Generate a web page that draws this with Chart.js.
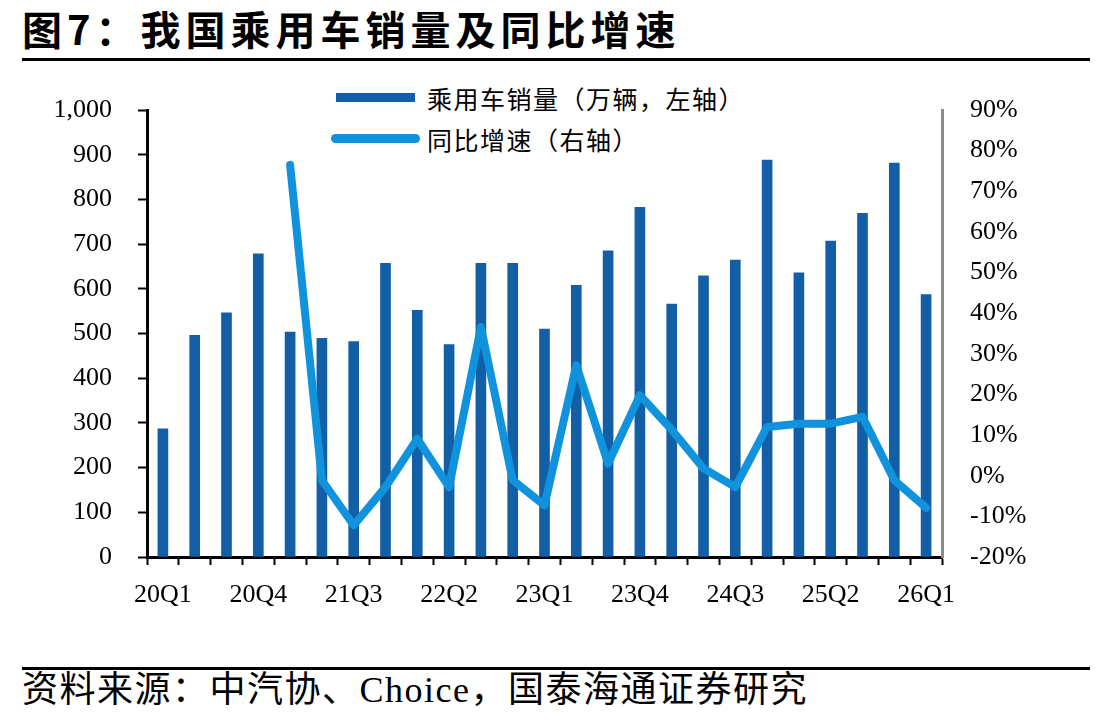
<!DOCTYPE html>
<html>
<head>
<meta charset="utf-8">
<script src="https://cdn.jsdelivr.net/npm/chart.js@4.4.1/dist/chart.umd.min.js"></script>
<style>
  html, body { margin:0; padding:0; background:#fff; }
  body { width:1106px; height:722px; position:relative; overflow:hidden; }
  #c { position:absolute; left:0; top:0; }
  .title { position:absolute; left:22px; top:4px; font-family:"Noto Sans CJK SC", sans-serif; font-weight:700; font-size:40px; letter-spacing:5px; color:#000; white-space:nowrap; line-height:48px; }
  .rule { position:absolute; left:22px; width:1068px; height:3px; background:#000; }
  .source { position:absolute; left:22px; top:668px; font-family:"Liberation Serif","Noto Sans CJK SC", serif; font-size:36px; color:#000; white-space:nowrap; line-height:44px; letter-spacing:1.5px; }
  .lg { position:absolute; font-family:"Noto Sans CJK SC", sans-serif; font-size:25px; letter-spacing:1.5px; color:#000; white-space:nowrap; line-height:30px; }
  .sw { position:absolute; }
</style>
</head>
<body>
<div class="title">图7：我国乘用车销量及同比增速</div>
<div class="rule" style="top:58px"></div>
<div class="rule" style="top:667px"></div>
<div class="source">资料来源：中汽协、Choice，国泰海通证券研究</div>

<div class="sw" style="left:336px;top:93px;width:79px;height:9px;background:#125FA6"></div>
<div class="lg" id="lg1" style="left:427px;top:83px">乘用车销量（万辆，左轴）</div>
<div class="sw" style="left:331px;top:134px;width:89px;height:9px;border-radius:5px;background:#1092DC"></div>
<div class="lg" id="lg2" style="left:427px;top:124px">同比增速（右轴）</div>

<canvas id="c" width="1106" height="722"></canvas>
<script>
const categories = ['20Q1','20Q2','20Q3','20Q4','21Q1','21Q2','21Q3','21Q4','22Q1','22Q2','22Q3','22Q4',
  '23Q1','23Q2','23Q3','23Q4','24Q1','24Q2','24Q3','24Q4','25Q1','25Q2','25Q3','25Q4','26Q1'];
const sales = [287, 496, 546, 678, 503, 489, 482, 657, 552, 475, 657, 657,
  510, 608, 685, 782, 566, 629, 664, 888, 636, 707, 769, 881, 587];
const yoy = [null, null, null, null, 76.5, -1.1, -12.2, -2.8, 9.1, -2.8, 36.6, -1.1,
  -7.3, 27.2, 3.0, 19.8, 11.3, 1.8, -2.8, 12.0, 12.8, 12.8, 14.5, -1.1, -7.9];
const leftTicks = [0, 1000, 100];
const rightTicks = [-20, 90, 10];

const serif = '"Liberation Serif", "Times New Roman", serif';

new Chart(document.getElementById('c'), {
  type: 'bar',
  data: {
    labels: categories,
    datasets: [
      {
        type: 'line',
        label: '同比增速（右轴）',
        data: yoy,
        yAxisID: 'y2',
        borderColor: '#1092DC',
        backgroundColor: '#1092DC',
        borderWidth: 8,
        borderJoinStyle: 'round',
        borderCapStyle: 'round',
        pointRadius: 0,
        tension: 0,
        order: 0
      },
      {
        type: 'bar',
        label: '乘用车销量（万辆，左轴）',
        data: sales,
        yAxisID: 'y',
        backgroundColor: '#125FA6',
        borderWidth: 0,
        barThickness: 10,
        order: 1
      }
    ]
  },
  options: {
    responsive: false,
    animation: false,
    layout: { padding: { top: 110, left: 0, right: 0, bottom: 0 } },
    plugins: { legend: { display: false }, tooltip: { enabled: false } },
    scales: {
      x: {
        afterFit: s => { s.height = 165; },
        border: { display: true, color: '#000', width: 3 },
        grid: { display: true, drawOnChartArea: false, drawTicks: true, tickLength: 8, tickColor: '#000', tickWidth: 2, offset: true },
        ticks: {
          autoSkip: false, maxRotation: 0, minRotation: 0, padding: 15,
          color: '#000', font: { family: serif, size: 26 },
          callback: function(v, i) { return i % 3 === 0 ? categories[i] : ''; }
        }
      },
      y: {
        position: 'left',
        min: leftTicks[0], max: leftTicks[1],
        afterFit: s => { s.width = 147; },
        border: { display: true, color: '#000', width: 3 },
        grid: { display: true, drawOnChartArea: false, drawTicks: true, tickLength: 9, tickColor: '#000', tickWidth: 2 },
        ticks: {
          stepSize: leftTicks[2], padding: 26, color: '#000', font: { family: serif, size: 26 },
          callback: v => v.toLocaleString('en-US')
        }
      },
      y2: {
        position: 'right',
        min: rightTicks[0], max: rightTicks[1],
        afterFit: s => { s.width = 164; },
        border: { display: true, color: '#8C8C8C', width: 3 },
        grid: { display: false, drawOnChartArea: false, drawTicks: false },
        ticks: {
          stepSize: rightTicks[2], padding: 28, color: '#000', font: { family: serif, size: 26 },
          callback: v => v + '%'
        }
      }
    }
  }
});
</script>
</body>
</html>
